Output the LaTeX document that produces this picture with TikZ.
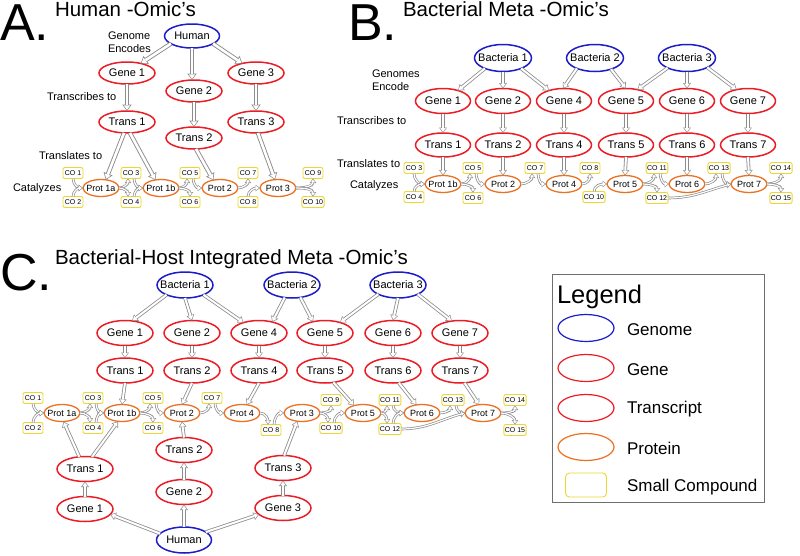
\documentclass[tikz,border=0pt]{standalone}
\usepackage{fontspec}
\setmainfont{Liberation Sans}
\usetikzlibrary{shapes.geometric,arrows.meta}
\definecolor{gblue}{RGB}{28,28,200}
\definecolor{gred}{RGB}{235,28,36}
\definecolor{gorange}{RGB}{235,112,32}
\definecolor{gyellow}{RGB}{236,214,48}
\definecolor{agray}{RGB}{140,140,140}
\definecolor{lgray}{RGB}{110,110,110}
\newcommand{\fsz}[1]{\fontsize{#1}{#1}\selectfont}
\begin{document}
\begin{tikzpicture}[x=1pt,y=1pt,
  every node/.style={inner sep=0pt, outer sep=0pt},
  genome/.style={ellipse, draw=gblue, line width=1.5pt, minimum width=56pt, minimum height=26pt, inner xsep=-5pt, font=\fsz{11}},
  gene/.style={ellipse, draw=gred, line width=1.5pt, minimum width=56pt, minimum height=25pt, inner xsep=-5pt, font=\fsz{11}},
  prot/.style={ellipse, draw=gorange, line width=1.3pt, minimum width=36pt, minimum height=17pt, inner xsep=-2.5pt, font=\fsz{9}},
  co/.style={rectangle, rounded corners=2pt, draw=gyellow, line width=0.9pt, minimum width=20pt, minimum height=11pt, inner xsep=1pt, font=\fsz{7}},
  lab/.style={anchor=base west, font=\fsz{11}},
  lab2/.style={anchor=west, align=left, font=\fontsize{11}{13.2}\selectfont},
  ttl/.style={anchor=base west, font=\fsz{20.5}},
  big/.style={anchor=base west, font=\fsz{52}},
  leglab/.style={anchor=base west, font=\fsz{17}},
  harr/.style={line width=4.4pt, draw=agray, -{Triangle[length=6.5pt,width=9.5pt,line width=0pt]},
     postaction={draw=white, line width=2.6pt, -{Triangle[length=4.4pt,width=6.4pt,line width=0pt]}, shorten >=1.2pt}},
  marr/.style={line width=3.6pt, draw=agray, -{Triangle[length=5.5pt,width=8pt,line width=0pt]},
     postaction={draw=white, line width=2pt, -{Triangle[length=3.8pt,width=5.5pt,line width=0pt]}, shorten >=1.1pt}},
  sarr/.style={line width=2.6pt, draw=agray, -{Triangle[length=4.5pt,width=6.5pt,line width=0pt]},
     postaction={draw=white, line width=1.2pt, -{Triangle[length=2.8pt,width=4pt,line width=0pt]}, shorten >=1pt}},
]
\useasboundingbox (0,0) rectangle (800,-555);

% ================= A =================
\node[big] (aL) at (0,-40) {A.};
\node[ttl] (aTi) at (55,-16.5) {Human -Omic's};
\node[genome, minimum width=55pt, minimum height=24pt] (aH) at (192,-36) {Human};
\node[lab2] (aGE) at (108,-42) {Genome\\Encodes};
\node[gene, minimum height=22pt] (aG1) at (127,-73) {Gene 1};
\node[gene, minimum height=22pt] (aG2) at (194,-91) {Gene 2};
\node[gene, minimum height=22pt] (aG3) at (256,-73) {Gene 3};
\node[lab] (aTr) at (47,-100) {Transcribes to};
\node[gene, minimum height=22pt] (aT1) at (127,-122) {Trans 1};
\node[gene, minimum height=22pt] (aT2) at (194,-138) {Trans 2};
\node[gene, minimum height=22pt] (aT3) at (256,-122) {Trans 3};
\node[lab] (aTl) at (39,-159) {Translates to};
\node[lab] (aCa) at (13,-191) {Catalyzes};
\node[prot] (aP1a) at (101,-188) {Prot 1a};
\node[prot] (aP1b) at (161,-188) {Prot 1b};
\node[prot] (aP2) at (220,-188) {Prot 2};
\node[prot] (aP3) at (278,-188) {Prot 3};
\node[co] (aC1) at (73,-173) {CO 1};
\node[co] (aC2) at (73,-202) {CO 2};
\node[co] (aC3) at (131,-173) {CO 3};
\node[co] (aC4) at (131,-202) {CO 4};
\node[co] (aC5) at (190,-173) {CO 5};
\node[co] (aC6) at (190,-202) {CO 6};
\node[co] (aC7) at (248,-173) {CO 7};
\node[co] (aC8) at (248,-202) {CO 8};
\node[co] (aC9) at (313,-173) {CO 9};
\node[co] (aC10) at (313,-202) {CO 10};

\draw[harr] (aH.200) -- (aG1.35);
\draw[harr] (aH.south) -- (aH.south |- aG2.north);
\draw[harr] (aH.-20) -- (aG3.145);
\draw[harr] (aG1.south) -- (aT1.north);
\draw[harr] (aG2.south) -- (aT2.north);
\draw[harr] (aG3.south) -- (aT3.north);
\draw[harr] (aT1.-105) -- (aP1a.60);
\draw[harr] (aT1.-75) -- (aP1b.125);
\draw[harr] (aT2.-80) -- (aP2.130);
\draw[harr] (aT3.-80) -- (aP3.110);

\draw[sarr] (aC1.south) to[out=-90,in=180] (aP1a.west);
\draw[sarr] (aC2.north) to[out=90,in=180] (aP1a.west);
\draw[sarr] (aP1a.east) to[out=0,in=-90] ([xshift=-3pt]aC3.south);
\draw[sarr] (aP1a.east) to[out=0,in=90] ([xshift=-3pt]aC4.north);
\draw[sarr] ([xshift=3pt]aC3.south) to[out=-90,in=180] (aP1b.west);
\draw[sarr] ([xshift=3pt]aC4.north) to[out=90,in=180] (aP1b.west);
\draw[sarr] (aP1b.east) to[out=0,in=-90] ([xshift=-3pt]aC5.south);
\draw[sarr] (aP1b.east) to[out=0,in=90] (aC6.north);
\draw[sarr] ([xshift=3pt]aC5.south) to[out=-90,in=180] (aP2.west);
\draw[sarr] (aP2.east) to[out=0,in=-90] (aC7.south);
\draw[sarr] (aC8.north) to[out=90,in=180] (aP3.west);
\draw[sarr] (aP3.east) to[out=0,in=-90] (aC9.south);
\draw[sarr] (aP3.east) to[out=0,in=90] (aC10.north);

% ================= B =================
\node[big] (bL) at (348,-40) {B.};
\node[ttl] (bTi) at (403,-16.5) {Bacterial Meta -Omic's};
\node[genome, minimum width=57pt, minimum height=27pt] (bB1) at (503,-58) {Bacteria 1};
\node[genome, minimum width=57pt, minimum height=27pt] (bB2) at (595,-58) {Bacteria 2};
\node[genome, minimum width=57pt, minimum height=27pt] (bB3) at (687,-58) {Bacteria 3};
\node[lab2] (bGE) at (372,-80) {Genomes\\Encode};
\node[gene, minimum width=55pt] (bG1) at (443,-101) {Gene 1};
\node[gene, minimum width=55pt] (bG2) at (503,-101) {Gene 2};
\node[gene, minimum width=55pt] (bG4) at (564,-101) {Gene 4};
\node[gene, minimum width=55pt] (bG5) at (626,-101) {Gene 5};
\node[gene, minimum width=55pt] (bG6) at (687,-101) {Gene 6};
\node[gene, minimum width=55pt] (bG7) at (748,-101) {Gene 7};
\node[lab] (bTr) at (337,-124) {Transcribes to};
\node[gene, minimum width=55pt, minimum height=24pt] (bT1) at (443,-145) {Trans 1};
\node[gene, minimum width=55pt, minimum height=24pt] (bT2) at (503,-145) {Trans 2};
\node[gene, minimum width=55pt, minimum height=24pt] (bT4) at (564,-145) {Trans 4};
\node[gene, minimum width=55pt, minimum height=24pt] (bT5) at (626,-145) {Trans 5};
\node[gene, minimum width=55pt, minimum height=24pt] (bT6) at (687,-145) {Trans 6};
\node[gene, minimum width=55pt, minimum height=24pt] (bT7) at (748,-145) {Trans 7};
\node[lab] (bTl) at (337,-167) {Translates to};
\node[lab] (bCa) at (350,-188) {Catalyzes};
\node[prot] (bP1b) at (443,-184) {Prot 1b};
\node[prot] (bP2) at (503,-184) {Prot 2};
\node[prot] (bP4) at (564,-184) {Prot 4};
\node[prot] (bP5) at (625,-184) {Prot 5};
\node[prot] (bP6) at (687,-184) {Prot 6};
\node[prot] (bP7) at (749,-184) {Prot 7};
\node[co] (bC3) at (414,-168) {CO 3};
\node[co] (bC4) at (414,-197) {CO 4};
\node[co] (bC5) at (473,-168) {CO 5};
\node[co] (bC6) at (473,-198) {CO 6};
\node[co] (bC7) at (535,-168) {CO 7};
\node[co] (bC8) at (590,-168) {CO 8};
\node[co] (bC10) at (594,-197) {CO 10};
\node[co] (bC11) at (657,-168) {CO 11};
\node[co] (bC12) at (657,-198) {CO 12};
\node[co] (bC13) at (719,-168) {CO 13};
\node[co] (bC14) at (781,-168) {CO 14};
\node[co] (bC15) at (781,-198) {CO 15};

\draw[marr] (bB1.210) -- (bG1.35);
\draw[marr] (bB1.south) -- (bG2.north);
\draw[marr] (bB1.-30) -- (bG4.145);
\draw[marr] (bB2.210) -- (bG4.95);
\draw[marr] (bB2.-35) -- (bG5.90);
\draw[marr] (bB3.207) -- (bG5.45);
\draw[marr] (bB3.south) -- (bG6.north);
\draw[marr] (bB3.-25) -- (bG7.135);
\foreach \i in {1,2,4,5,6,7}{
  \draw[marr] (bG\i.south) -- (bT\i.north);
}
\draw[marr] (bT1.south) -- (bP1b.north);
\draw[marr] (bT2.south) -- (bP2.north);
\draw[marr] (bT4.south) -- (bP4.north);
\draw[marr] (bT5.south) -- (bP5.north);
\draw[marr] (bT6.south) -- (bP6.north);
\draw[marr] (bT7.south) -- (bP7.north);

\draw[sarr] (bC3.south) to[out=-90,in=180] (bP1b.west);
\draw[sarr] (bC4.north) to[out=90,in=180] (bP1b.west);
\draw[sarr] (bP1b.east) to[out=0,in=-90] ([xshift=-3pt]bC5.south);
\draw[sarr] (bP1b.east) to[out=0,in=90] (bC6.north);
\draw[sarr] ([xshift=3pt]bC5.south) to[out=-90,in=180] (bP2.west);
\draw[sarr] (bP2.east) to[out=0,in=-90] ([xshift=-3pt]bC7.south);
\draw[sarr] ([xshift=3pt]bC7.south) to[out=-90,in=180] (bP4.west);
\draw[sarr] (bP4.east) to[out=0,in=-90] (bC8.south);
\draw[sarr] (bC10.north) to[out=90,in=180] (bP5.west);
\draw[sarr] (bP5.east) to[out=0,in=-90] ([xshift=-3pt]bC11.south);
\draw[sarr] (bP5.east) to[out=0,in=90] (bC12.north);
\draw[sarr] ([xshift=3pt]bC11.south) to[out=-90,in=180] (bP6.west);
\draw[sarr] (bP6.east) to[out=0,in=-90] ([xshift=-3pt]bC13.south);
\draw[sarr] ([xshift=3pt]bC13.south) to[out=-90,in=180] (bP7.west);
\draw[sarr] (bC12.east) to[out=0,in=195] (bP7.west);
\draw[sarr] (bP7.east) to[out=0,in=-90] (bC14.south);
\draw[sarr] (bP7.east) to[out=0,in=90] (bC15.north);

% ================= C =================
\node[big] (cL) at (0,-290) {C.};
\node[ttl] (cTi) at (55,-264.5) {Bacterial-Host Integrated Meta -Omic's};
\node[genome] (cB1) at (185,-285) {Bacteria 1};
\node[genome] (cB2) at (292,-285) {Bacteria 2};
\node[genome] (cB3) at (398,-285) {Bacteria 3};
\node[gene] (cG1) at (125,-333) {Gene 1};
\node[gene] (cG2) at (192,-333) {Gene 2};
\node[gene] (cG4) at (259,-333) {Gene 4};
\node[gene] (cG5) at (325,-333) {Gene 5};
\node[gene] (cG6) at (393,-333) {Gene 6};
\node[gene] (cG7) at (460,-333) {Gene 7};
\node[gene] (cT1) at (125,-370.5) {Trans 1};
\node[gene] (cT2) at (192,-370.5) {Trans 2};
\node[gene] (cT4) at (259,-370.5) {Trans 4};
\node[gene] (cT5) at (325,-370.5) {Trans 5};
\node[gene] (cT6) at (393,-370.5) {Trans 6};
\node[gene] (cT7) at (460,-370.5) {Trans 7};
\node[prot] (cP1a) at (62,-413) {Prot 1a};
\node[prot] (cP1b) at (122,-413) {Prot 1b};
\node[prot] (cP2) at (182,-413) {Prot 2};
\node[prot] (cP4) at (242,-413) {Prot 4};
\node[prot] (cP3) at (302,-413) {Prot 3};
\node[prot] (cP5) at (363,-413) {Prot 5};
\node[prot] (cP6) at (422,-413) {Prot 6};
\node[prot] (cP7) at (483,-413) {Prot 7};
\node[co] (cC1) at (33,-398) {CO 1};
\node[co] (cC2) at (33,-428) {CO 2};
\node[co] (cC3) at (93,-398) {CO 3};
\node[co] (cC4) at (93,-428) {CO 4};
\node[co] (cC5) at (153,-398) {CO 5};
\node[co] (cC6) at (153,-428) {CO 6};
\node[co] (cC7) at (212,-398) {CO 7};
\node[co] (cC8) at (271,-430) {CO 8};
\node[co] (cC9) at (331,-400) {CO 9};
\node[co] (cC10) at (331,-428) {CO 10};
\node[co] (cC11) at (390,-400) {CO 11};
\node[co] (cC12) at (390,-429) {CO 12};
\node[co] (cC13) at (453,-400) {CO 13};
\node[co] (cC14) at (515,-400) {CO 14};
\node[co] (cC15) at (515,-430) {CO 15};
\node[gene] (cT1l) at (85,-469) {Trans 1};
\node[gene] (cG1l) at (85,-509) {Gene 1};
\node[gene] (cT2l) at (184,-450) {Trans 2};
\node[gene] (cG2l) at (184,-492) {Gene 2};
\node[gene] (cT3l) at (283,-468) {Trans 3};
\node[gene] (cG3l) at (283,-508) {Gene 3};
\node[genome, minimum width=55pt, minimum height=26pt] (cH) at (184,-540) {Human};

\draw[marr] (cB1.208) -- (cG1.60);
\draw[marr] (cB1.south) -- (cG2.north);
\draw[marr] (cB1.-28) -- (cG4.146);
\draw[marr] (cB2.240) -- (cG4.40);
\draw[marr] (cB2.-56) -- (cG5.137);
\draw[marr] (cB3.205) -- (cG5.35);
\draw[marr] (cB3.south) -- (cG6.north);
\draw[marr] (cB3.-25) -- (cG7.124);
\foreach \i in {1,2,4,5,6,7}{
  \draw[marr] (cG\i.south) -- (cT\i.north);
}
\draw[marr] (cT1.south) -- (cP1b.north);
\draw[marr] (cT2.south) -- (cP2.north);
\draw[marr] (cT4.south) -- (cP4.60);
\draw[marr] (cT5.-55) -- (cP5.140);
\draw[marr] (cT6.-65) -- (cP6.125);
\draw[marr] (cT7.-70) -- (cP7.115);

\draw[marr] (cH.165) -- (cG1l.-12);
\draw[marr] (cH.north) -- (cG2l.south);
\draw[marr] (cH.20) -- (cG3l.195);
\draw[marr] (cG1l.north) -- (cT1l.south);
\draw[marr] (cG2l.north) -- (cT2l.south);
\draw[marr] (cG3l.north) -- (cT3l.south);
\draw[marr] (cT1l.115) -- (cP1a.-80);
\draw[marr] (cT1l.60) -- (cP1b.-115);
\draw[marr] (cT2l.north) -- (cP2.south);
\draw[marr] (cT3l.85) -- (cP3.-120);

\draw[sarr] (cC1.south) to[out=-90,in=180] (cP1a.west);
\draw[sarr] (cC2.north) to[out=90,in=180] (cP1a.west);
\draw[sarr] (cP1a.east) to[out=0,in=-90] ([xshift=-3pt]cC3.south);
\draw[sarr] (cP1a.east) to[out=0,in=90] ([xshift=-3pt]cC4.north);
\draw[sarr] ([xshift=3pt]cC3.south) to[out=-90,in=180] (cP1b.west);
\draw[sarr] ([xshift=3pt]cC4.north) to[out=90,in=180] (cP1b.west);
\draw[sarr] (cP1b.east) to[out=0,in=-90] ([xshift=-3pt]cC5.south);
\draw[sarr] (cP1b.east) to[out=0,in=90] (cC6.north);
\draw[sarr] ([xshift=3pt]cC5.south) to[out=-90,in=180] (cP2.west);
\draw[sarr] (cP2.east) to[out=0,in=-90] ([xshift=-3pt]cC7.south);
\draw[sarr] ([xshift=3pt]cC7.south) to[out=-90,in=180] (cP4.west);
\draw[sarr] (cP4.east) to[out=0,in=90] ([xshift=-3pt]cC8.north);
\draw[sarr] ([xshift=3pt]cC8.north) to[out=90,in=180] (cP3.west);
\draw[sarr] (cP3.east) to[out=0,in=-90] (cC9.south);
\draw[sarr] (cP3.east) to[out=0,in=90] ([xshift=-3pt]cC10.north);
\draw[sarr] ([xshift=3pt]cC10.north) to[out=90,in=180] (cP5.west);
\draw[sarr] (cP5.east) to[out=0,in=-90] ([xshift=-3pt]cC11.south);
\draw[sarr] (cP5.east) to[out=0,in=90] ([xshift=-3pt]cC12.north);
\draw[sarr] ([xshift=3pt]cC11.south) to[out=-90,in=180] (cP6.west);
\draw[sarr] ([xshift=3pt]cC12.north) to[out=90,in=180] (cP6.west);
\draw[sarr] (cP6.east) to[out=0,in=-90] ([xshift=-3pt]cC13.south);
\draw[sarr] ([xshift=3pt]cC13.south) to[out=-90,in=180] (cP7.west);
\draw[sarr] (cC12.east) to[out=0,in=195] (cP7.west);
\draw[sarr] (cP7.east) to[out=0,in=-90] (cC14.south);
\draw[sarr] (cP7.east) to[out=0,in=90] (cC15.north);

% ================= Legend =================
\node[draw=lgray, line width=1pt, minimum width=212pt, minimum height=228pt] (leg) at (658,-388) {};
\node[anchor=base west, font=\fsz{25.5}] (legT) at (557,-303) {Legend};
\node[genome, minimum height=27pt, line width=1.2pt] (lg1) at (586,-328) {};
\node[gene, minimum height=27pt, line width=1.2pt] (lg2) at (586,-368) {};
\node[gene, minimum height=27pt, line width=1.2pt] (lg3) at (586,-408) {};
\node[prot, minimum width=56pt, minimum height=27pt, line width=1.2pt] (lg4) at (586,-447) {};
\node[co, minimum width=41pt, minimum height=24pt, rounded corners=4pt] (lg5) at (586,-485) {};
\node[leglab] (lgt1) at (627,-335.5) {Genome};
\node[leglab] (lgt2) at (627,-375) {Gene};
\node[leglab] (lgt3) at (627,-413.5) {Transcript};
\node[leglab] (lgt4) at (627,-454.5) {Protein};
\node[leglab] (lgt5) at (627,-491) {Small Compound};
\end{tikzpicture}
\end{document}
